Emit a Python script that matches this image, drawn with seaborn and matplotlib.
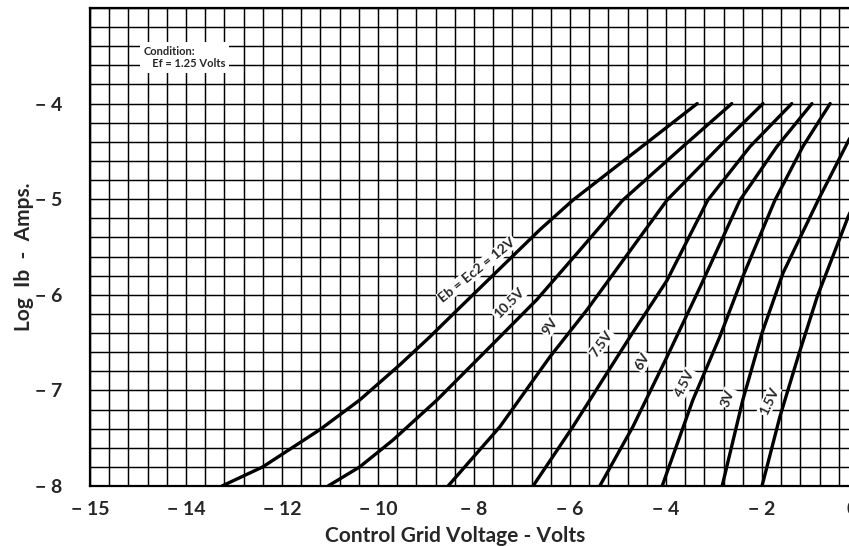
import numpy as np
import pandas as pd
import seaborn as sns
import matplotlib.pyplot as plt
from matplotlib.ticker import MultipleLocator

# Curves: control grid voltage (V) vs log Ib (A)
x_12v = [-13.25, -12.40, -11.21, -10.38, -9.54, -8.92, -8.35, -6.63, -5.94, -4.40, -3.35]
y_12v = [-8.00, -7.80, -7.41, -7.10, -6.73, -6.44, -6.16, -5.32, -5.01, -4.41, -4.00]
x_105v = [-11.04, -10.38, -9.69, -8.77, -7.46, -6.69, -5.79, -4.90, -3.65, -2.63]
y_105v = [-8.00, -7.80, -7.52, -7.10, -6.44, -6.05, -5.53, -5.01, -4.45, -4.00]
x_9v = [-8.54, -7.46, -6.42, -5.65, -3.98, -2.81, -1.98]
y_9v = [-8.00, -7.38, -6.65, -6.16, -5.01, -4.41, -4.00]
x_75v = [-6.77, -5.94, -4.75, -3.98, -3.13, -2.25, -1.38]
y_75v = [-8.00, -7.38, -6.44, -5.85, -5.01, -4.45, -4.00]
x_6v = [-5.38, -4.69, -3.98, -3.29, -2.46, -1.69, -0.96]
y_6v = [-8.00, -7.38, -6.65, -5.92, -5.01, -4.45, -4.00]
x_45v = [-4.08, -3.44, -2.88, -2.40, -1.73, -1.15, -0.58]
y_45v = [-8.00, -7.10, -6.44, -5.81, -5.01, -4.45, -4.00]
x_3v = [-2.83, -2.40, -2.00, -1.56, -0.83, -0.19, 0.00]
y_3v = [-8.00, -7.10, -6.40, -5.77, -5.01, -4.38, -4.22]
x_15v = [-2.00, -1.63, -1.25, -0.85, -0.21, 0.00]
y_15v = [-8.00, -7.28, -6.65, -6.02, -5.19, -4.95]

curve_names = ["12V", "10.5V", "9V", "7.5V", "6V", "4.5V", "3V", "1.5V"]
curve_x = [x_12v, x_105v, x_9v, x_75v, x_6v, x_45v, x_3v, x_15v]
curve_y = [y_12v, y_105v, y_9v, y_75v, y_6v, y_45v, y_3v, y_15v]

# curve labels: text, position, rotation
label_text = ["Eb = Ec2 = 12V", "10.5V", "9V", "7.5V", "6V", "4.5V", "3V", "1.5V"]
label_x = [-7.93, -7.27, -6.42, -5.35, -4.49, -3.61, -2.71, -1.85]
label_y = [-5.74, -6.09, -6.33, -6.51, -6.70, -6.93, -7.08, -7.11]
label_rot = [39, 45, 55, 54, 60, 63, 70, 65]

x_ticks = [-16, -14, -12, -10, -8, -6, -4, -2, 0]
x_ticklabels = ["\u2212 15", "\u2212 14", "\u2212 12", "\u2212 10", "\u2212 8",
                "\u2212 6", "\u2212 4", "\u2212 2", "0"]
y_ticks = [-8, -7, -6, -5, -4]
y_ticklabels = ["\u2212 8", "\u2212 7", "\u2212 6", "\u2212 5", "\u2212 4"]

df = pd.concat([pd.DataFrame({"vg": xs, "logib": ys, "curve": n})
                for n, xs, ys in zip(curve_names, curve_x, curve_y)])

sns.set_style("white")
plt.rcParams["font.family"] = ["Lato", "DejaVu Sans"]

fig = plt.figure(figsize=(8.49, 5.46), dpi=100)
ax = fig.add_axes([90 / 849, 60 / 546, 768 / 849, 478 / 546])

sns.lineplot(data=df, x="vg", y="logib", hue="curve", hue_order=curve_names,
             palette=["black"] * len(curve_names), linewidth=2.4,
             legend=False, estimator=None, sort=True, ax=ax, zorder=5)

ax.set_xlim(-16, 0)
ax.set_ylim(-8, -3)
ax.xaxis.set_minor_locator(MultipleLocator(0.4))
ax.yaxis.set_minor_locator(MultipleLocator(0.2))
ax.grid(which="both", color="black", linewidth=1.05)
ax.set_axisbelow(True)
for s in ax.spines.values():
    s.set_color("black")
    s.set_linewidth(1.6)

ax.set_xticks(x_ticks)
ax.set_xticklabels(x_ticklabels, fontsize=14, fontweight="bold")
ax.get_xticklabels()[-1].set_ha("right")
ax.set_yticks(y_ticks)
ax.set_yticklabels(y_ticklabels, fontsize=14, fontweight="bold")
ax.tick_params(which="both", length=0)
ax.tick_params(axis="x", pad=11)
ax.tick_params(axis="y", pad=20)

ax.set_xlabel("Control Grid Voltage - Volts", fontsize=15, fontweight="bold")
ax.set_ylabel("Log  Ib  -  Amps.", fontsize=15, fontweight="bold")
ax.xaxis.label.set_va("center")
ax.xaxis.set_label_coords(0.475, -0.104)
ax.yaxis.set_label_coords(-0.073, 0.48)

for t, lx, ly, r in zip(label_text, label_x, label_y, label_rot):
    ax.text(lx, ly, t, rotation=r, rotation_mode="anchor", ha="center", va="center",
            fontsize=10, fontweight="bold", zorder=4,
            bbox=dict(facecolor="white", edgecolor="none", pad=0.8))

ax.text(-14.88, -3.40, "Condition:\n   Ef = 1.25 Volts", fontsize=8, fontweight="bold",
        ha="left", va="top", linespacing=1.1, zorder=4,
        bbox=dict(facecolor="white", edgecolor="none", pad=3))

plt.savefig("out.png", dpi=100)
